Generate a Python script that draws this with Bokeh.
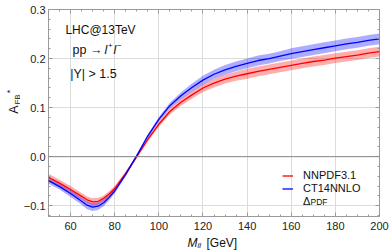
import math
from bokeh.plotting import figure
from bokeh.layouts import row, column
from bokeh.models import (Label, Span, LinearAxis, Legend, LegendItem, Range1d,
                          FixedTicker, CustomJSTickFormatter)
from bokeh.embed import file_html
from bokeh.resources import INLINE

# ---------------- data ----------------
mass = [50, 55, 60, 65, 67.5, 70, 72.5, 75, 77.5, 80, 85, 90, 95, 100, 105, 110, 115,
        120, 125, 130, 135, 140, 145, 150, 155, 160, 165, 170, 175, 180, 185, 190, 195, 200]
nnpdf = [-0.042, -0.054, -0.067, -0.081, -0.088, -0.092, -0.091, -0.085, -0.076, -0.065,
         -0.034, 0.000, 0.035, 0.066, 0.092, 0.111, 0.126, 0.140, 0.150, 0.158, 0.164,
         0.169, 0.174, 0.178, 0.182, 0.186, 0.190, 0.194, 0.197, 0.201, 0.204, 0.207,
         0.211, 0.214]
ct14 = [-0.049, -0.061, -0.075, -0.091, -0.099, -0.103, -0.101, -0.094, -0.083, -0.070,
        -0.036, 0.002, 0.042, 0.076, 0.104, 0.124, 0.141, 0.156, 0.168, 0.177, 0.184,
        0.190, 0.196, 0.200, 0.205, 0.210, 0.214, 0.218, 0.222, 0.226, 0.230, 0.233,
        0.237, 0.240]
nnpdf_err = [0.007, 0.007, 0.007, 0.007, 0.007, 0.007, 0.007, 0.006, 0.006, 0.005,
             0.004, 0.003, 0.004, 0.005, 0.006, 0.007, 0.008, 0.008, 0.009, 0.009, 0.009,
             0.010, 0.010, 0.010, 0.010, 0.010, 0.010, 0.010, 0.010, 0.010, 0.010, 0.010,
             0.010, 0.010]
ct14_err = [0.006, 0.006, 0.007, 0.007, 0.008, 0.008, 0.008, 0.007, 0.006, 0.005,
            0.004, 0.003, 0.004, 0.005, 0.006, 0.007, 0.008, 0.009, 0.009, 0.010, 0.010,
            0.010, 0.010, 0.010, 0.010, 0.011, 0.011, 0.011, 0.011, 0.011, 0.011, 0.011,
            0.011, 0.011]
x_ticks = [60, 80, 100, 120, 140, 160, 180, 200]
y_ticks = [-0.1, 0.0, 0.1, 0.2, 0.3]
series_names = ["NNPDF3.1", "CT14NNLO"]

FONT = "Liberation Sans"
GRAY = "#9a9a9a"
TXT = "#111111"

p = figure(width=370, height=235, output_backend="svg", toolbar_location=None,
           x_range=Range1d(50, 200), y_range=Range1d(-0.122, 0.3),
           min_border_left=25, min_border_right=11, min_border_top=9, min_border_bottom=19)
p.background_fill_color = "white"
p.border_fill_color = "white"
p.outline_line_color = GRAY

# bands
lo_r = [v - e for v, e in zip(nnpdf, nnpdf_err)]
hi_r = [v + e for v, e in zip(nnpdf, nnpdf_err)]
lo_b = [v - e for v, e in zip(ct14, ct14_err)]
hi_b = [v + e for v, e in zip(ct14, ct14_err)]
p.varea(x=mass, y1=lo_r, y2=hi_r, fill_color="#ff0000", fill_alpha=0.32)
p.varea(x=mass, y1=lo_b, y2=hi_b, fill_color="#0000ff", fill_alpha=0.32)
r_red = p.line(mass, nnpdf, line_color="#ff0000", line_width=1.3)
r_blue = p.line(mass, ct14, line_color="#0000ff", line_width=1.3)
r_gray = p.varea(x=[], y1=[], y2=[], fill_color="#b0b0b0")

p.add_layout(Span(location=0, dimension="width", line_color="#888888", line_width=1))

xt = FixedTicker(ticks=x_ticks, minor_ticks=list(range(50, 201, 5)))
yt = FixedTicker(ticks=y_ticks, minor_ticks=[round(-0.12 + 0.02 * i, 2) for i in range(22)])

def style_axis(ax, show_labels):
    ax.axis_line_color = None
    ax.major_tick_line_color = GRAY
    ax.minor_tick_line_color = GRAY
    ax.major_tick_in = 4
    ax.major_tick_out = 0
    ax.minor_tick_in = 2
    ax.minor_tick_out = 0
    if show_labels:
        ax.major_label_text_font = FONT
        ax.major_label_text_font_size = "11px"
        ax.major_label_text_color = "#222222"
    else:
        ax.formatter = CustomJSTickFormatter(code="return ''")
        ax.major_label_standoff = 0

p.xaxis.ticker = xt
p.yaxis.ticker = yt
p.yaxis.formatter = CustomJSTickFormatter(
    code="return (tick < -1e-9 ? '\u22120.' : '0.') + Math.round(Math.abs(tick)*10)")
p.xaxis.major_label_standoff = 5
p.yaxis.major_label_standoff = 3
style_axis(p.xaxis[0], True)
style_axis(p.yaxis[0], True)
ax_r = LinearAxis(ticker=yt)
ax_t = LinearAxis(ticker=xt)
style_axis(ax_r, False)
style_axis(ax_t, False)
p.add_layout(ax_r, "right")
p.add_layout(ax_t, "above")

p.xgrid.ticker = xt
p.ygrid.ticker = yt
p.xgrid.grid_line_color = "#dcdcdc"
p.ygrid.grid_line_color = "#dcdcdc"

legend = Legend(items=[LegendItem(label=series_names[0], renderers=[r_red]),
                       LegendItem(label=series_names[1], renderers=[r_blue]),
                       LegendItem(label="\u0394", renderers=[r_gray])],
                location=(234, 9), orientation="vertical",
                label_text_font=FONT, label_text_font_size="11px", label_text_color=TXT,
                glyph_width=11, glyph_height=5, label_height=12, label_standoff=10,
                spacing=1, padding=0, margin=0,
                border_line_color=None, background_fill_alpha=0)
p.add_layout(legend)

def lab(fig, x, y, text, size="11px", style="normal", angle=0, align="center"):
    l = Label(x=x, y=y, text=text, text_font=FONT, text_font_size=size,
              text_font_style=style, text_align=align, text_baseline="middle",
              angle=angle, text_color=TXT, x_units="screen", y_units="screen")
    fig.add_layout(l)

lab(p, 262, 15, "PDF", size="8.5px", align="left")
lab(p, 52, 187, "LHC@13TeV", size="12px")
lab(p, 24, 167, "pp \u2192", size="12.5px", align="left")
lab(p, 56, 167, "l", size="12.5px", style="italic", align="left")
lab(p, 59.5, 171, "+", size="8px", align="left")
lab(p, 65, 167, "l", size="12.5px", style="italic", align="left")
lab(p, 68.5, 171, "\u2212", size="8px", align="left")
lab(p, 45, 143, "|Y| > 1.5", size="12.5px")

# side strips for the axis titles
def strip(w, h):
    f = figure(width=w, height=h, output_backend="svg", toolbar_location=None,
               x_axis_location=None, y_axis_location=None,
               x_range=Range1d(0, 1), y_range=Range1d(0, 1),
               min_border=0, outline_line_color=None)
    f.grid.visible = False
    f.background_fill_color = "white"
    f.border_fill_color = "white"
    return f

yfig = strip(20, 235)
lab(yfig, 13, 107, "A", size="12.5px", angle=math.pi / 2)
lab(yfig, 16.5, 117, "FB", size="8px", angle=math.pi / 2)
lab(yfig, 9.5, 125, "*", size="9px", angle=math.pi / 2)

xfig = strip(390, 17)
lab(xfig, 187, 10, "M", size="12px", style="italic", align="left")
lab(xfig, 197, 7, "ll", size="8px", style="italic", align="left")
lab(xfig, 206, 10, "[GeV]", size="12px", align="left")

layout = column(row(yfig, p, spacing=0), xfig, spacing=0)
open("out.html", "w").write(file_html(layout, INLINE))
